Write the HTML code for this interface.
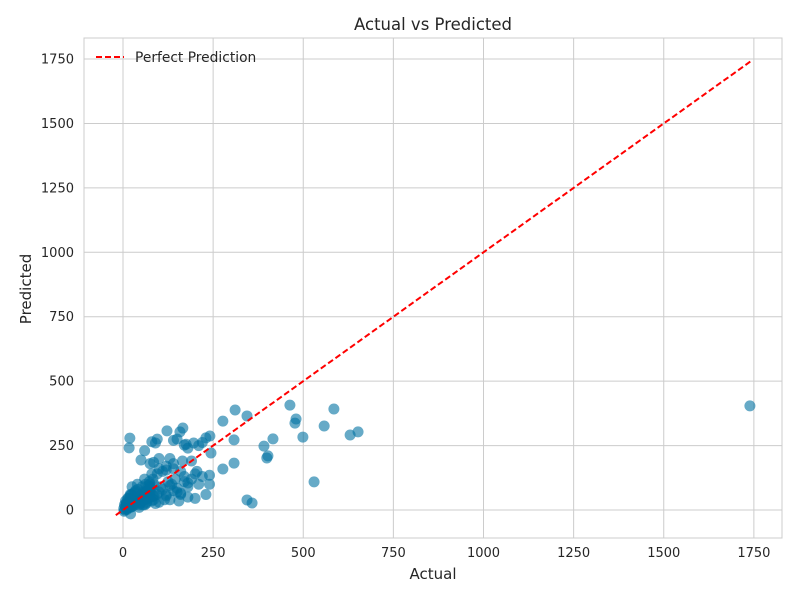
<!DOCTYPE html>
<html><head><meta charset="utf-8"><style>
body{margin:0;background:#fff;font-family:"Liberation Sans","DejaVu Sans",sans-serif}
svg text{font-family:"DejaVu Sans","Liberation Sans",sans-serif;fill:#262626}
</style></head><body>
<svg id="chart" width="800" height="600" xmlns="http://www.w3.org/2000/svg">
<rect width="800" height="600" fill="#fff"/>
<g id="grid"></g>
<g id="pts"></g>
<g id="line"></g>
<rect x="84" y="38" width="698" height="500" fill="none" stroke="#cccccc" stroke-width="1"/>
<g id="ticks"></g>
<text x="433" y="30" text-anchor="middle" font-size="16.5">Actual vs Predicted</text>
<text x="433" y="579" text-anchor="middle" font-size="15">Actual</text>
<text x="31" y="289" text-anchor="middle" font-size="15" transform="rotate(-90 31 289)">Predicted</text>
<g>
<line x1="96" y1="57" x2="124" y2="57" stroke="#ff0000" stroke-width="2" stroke-dasharray="6,3"/>
<text x="135" y="62" font-size="13.8">Perfect Prediction</text>
</g>
</svg>
<script>
const actual=[
1739,311,463,585,344,277,480,477,558,652,
630,499,416,391,308,308,402,399,530,344,
358,244,277,19,17,50,122,166,158,196,
175,241,220,95,90,80,140,150,170,180,
210,230,190,100,130,60,75,85,110,120,
140,160,200,220,240,160,180,130,100,60,
200,230,180,150,120,170,210,240,90,80,
5,8,10,12,15,18,20,22,25,28,
30,32,35,38,40,42,45,48,50,52,
55,58,60,62,65,68,70,72,75,78,
3,6,9,14,16,24,26,34,36,44,
46,54,56,64,66,74,76,84,86,94,
2,4,7,11,13,21,23,27,33,37,
41,47,53,57,63,67,73,77,83,87,
100,110,120,130,140,150,160,170,180,190,
25,40,60,80,100,120,140,20,45,65,
85,105,125,145,115,95,135,155,165,205,
10,15,20,30,35,45,55,65,70,75];
const predicted=[
404,388,407,392,365,345,353,337,326,303,
291,283,276,248,272,182,210,202,109,39,
27,221,159,279,241,194,307,318,303,260,
255,287,262,275,260,265,270,275,252,240,
250,280,190,200,200,230,180,185,150,155,
160,150,140,130,100,60,50,40,30,20,
45,60,90,70,55,110,100,135,25,35,
0,10,5,20,15,25,10,30,20,35,
25,40,30,45,35,50,40,55,45,60,
50,65,55,70,60,75,65,80,70,85,
-5,15,25,8,30,12,40,22,50,28,
60,35,70,42,80,48,90,55,100,60,
5,20,35,2,45,-15,60,15,70,30,
80,25,90,40,100,45,110,50,120,55,
70,80,60,95,75,85,65,130,105,120,
90,100,120,140,160,170,180,60,20,30,
40,90,110,120,40,140,100,35,190,150,
30,45,55,65,75,10,20,25,95,100];
const xTicks=[0,250,500,750,1000,1250,1500,1750];
const yTicks=[0,250,500,750,1000,1250,1500,1750];
const lineRange=[-20,1740];
const X=v=>123+v*0.3605, Y=v=>510-v*0.2577;
const NS='http://www.w3.org/2000/svg';
const g=document.getElementById('grid'),tk=document.getElementById('ticks');
function mk(t,a,p){const e=document.createElementNS(NS,t);for(const k in a)e.setAttribute(k,a[k]);p.appendChild(e);return e;}
xTicks.forEach(v=>{
 const l=mk('line',{x1:X(v),x2:X(v),y1:38,y2:538,stroke:'#cccccc','stroke-width':1},g);
 
 
 const t=mk('text',{x:X(v),y:557,'text-anchor':'middle','font-size':13},tk);t.textContent=v;
 
 
});
yTicks.forEach(v=>{
 const l=mk('line',{x1:84,x2:782,y1:Y(v),y2:Y(v),stroke:'#cccccc','stroke-width':1},g);
 
 
 const t=mk('text',{x:74,y:Y(v)+4.5,'text-anchor':'end','font-size':13},tk);t.textContent=v;
 
 
});
const pg=document.getElementById('pts');
const n=Math.min(actual.length,predicted.length);
for(let i=0;i<n;i++){
 const c=mk('circle',{cx:X(actual[i]),cy:Y(predicted[i]),r:5.5,fill:'#0072a2','fill-opacity':0.6},pg);
 
 
}
const ln=mk('line',{x1:X(lineRange[0]),y1:Y(lineRange[0]),x2:X(lineRange[1]),y2:Y(lineRange[1]),stroke:'#ff0000','stroke-width':2,'stroke-dasharray':'6,3'},document.getElementById('line'));


</script>
</body></html>
